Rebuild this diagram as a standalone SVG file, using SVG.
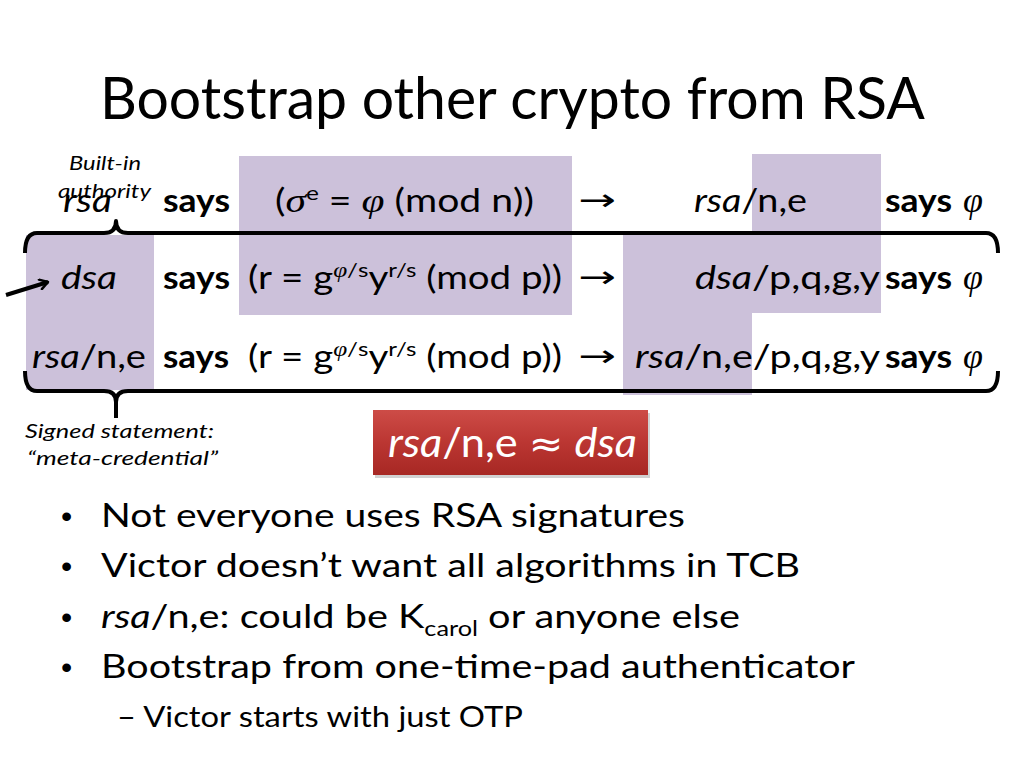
<svg xmlns="http://www.w3.org/2000/svg" width="1024" height="768" viewBox="0 0 1024 768">
<defs>
<style>
.t{font-family:Lato,"Open Sans","Liberation Sans",sans-serif;fill:#000}
.tb{font-family:Lato,"Open Sans","Liberation Sans",sans-serif;font-weight:bold;fill:#000}
.m{font-family:"Liberation Serif","DejaVu Serif",serif;font-style:italic;font-weight:normal}
.ar{font-family:"DejaVu Sans","Liberation Sans",sans-serif;font-size:30px}
.i{font-style:italic}
.shade{fill:#ccc1da}
.br{fill:none;stroke:#000;stroke-width:4;stroke-linecap:butt;stroke-linejoin:round}
.dot{font-family:"Liberation Sans",Arial,sans-serif;font-size:32px}
</style>
<linearGradient id="red" x1="0" y1="0" x2="0" y2="1">
<stop offset="0" stop-color="#cd4c47"/>
<stop offset="0.5" stop-color="#bb3632"/>
<stop offset="1" stop-color="#a72824"/>
</linearGradient>
<marker id="open" viewBox="0 0 12 12" refX="10" refY="6" markerWidth="12" markerHeight="12" markerUnits="userSpaceOnUse" orient="auto">
<path d="M2,1 L10,6 L2,11" fill="none" stroke="#000" stroke-width="2.5" stroke-linecap="round" stroke-linejoin="round"/>
</marker>
</defs>
<rect width="1024" height="768" fill="#fff"/>

<g id="title">
<text class="t" x="100" y="119" font-size="58" textLength="825" lengthAdjust="spacingAndGlyphs">Bootstrap other crypto from RSA</text>
</g>

<g id="shading">
<rect class="shade" x="239" y="156" width="333" height="159"/>
<rect class="shade" x="752" y="154" width="129" height="159"/>
<rect class="shade" x="26" y="235" width="128" height="155"/>
<rect class="shade" x="623" y="235" width="129" height="160"/>
</g>

<g id="connectors">
<path class="br" d="M25,253 Q25,233 37,233 L104,233 Q116,233 116,221 Q116,233 128,233 L986,233 Q998,233 998,253"/>
<path class="br" d="M25,371 Q25,391 37,391 L104,391 Q116,391 116,402 L116,418 M116,402 Q116,391 128,391 L986,391 Q998,391 998,371"/>
<line x1="6" y1="295" x2="48" y2="282" stroke="#000" stroke-width="4" marker-end="url(#open)"/>
</g>

<g id="row1">
<text class="t i" x="63" y="212" font-size="32" textLength="49" lengthAdjust="spacingAndGlyphs">rsa</text>
<text class="tb" x="163" y="212" font-size="32" textLength="67" lengthAdjust="spacingAndGlyphs">says</text>
<text class="t" x="275" y="212" font-size="32" textLength="259" lengthAdjust="spacingAndGlyphs">(<tspan class="m" font-size="34">σ</tspan><tspan dy="-12" font-size="20">e</tspan><tspan dy="12"> = </tspan><tspan class="m" font-size="34">φ</tspan> (mod n))</text>
<text class="ar" transform="translate(578,210) scale(1.5,1)">→</text>
<text class="t" x="694" y="212" font-size="32" textLength="113" lengthAdjust="spacingAndGlyphs"><tspan class="i">rsa</tspan>/n,e</text>
<text class="tb" x="885" y="212" font-size="32" textLength="67" lengthAdjust="spacingAndGlyphs">says</text>
<text class="m" x="963" y="212" font-size="36">φ</text>
</g>

<g id="row2">
<text class="t i" x="61" y="289" font-size="32" textLength="56" lengthAdjust="spacingAndGlyphs">dsa</text>
<text class="tb" x="163" y="289" font-size="32" textLength="67" lengthAdjust="spacingAndGlyphs">says</text>
<text class="t" x="248" y="289" font-size="32" textLength="314" lengthAdjust="spacingAndGlyphs">(r = g<tspan dy="-12" font-size="20"><tspan class="m" font-size="21">φ</tspan>/s</tspan><tspan dy="12">y</tspan><tspan dy="-12" font-size="20">r/s</tspan><tspan dy="12"> (mod p))</tspan></text>
<text class="ar" transform="translate(578,287) scale(1.5,1)">→</text>
<text class="t" x="695" y="289" font-size="32" textLength="185" lengthAdjust="spacingAndGlyphs"><tspan class="i">dsa</tspan>/p,q,g,y</text>
<text class="tb" x="885" y="289" font-size="32" textLength="67" lengthAdjust="spacingAndGlyphs">says</text>
<text class="m" x="963" y="289" font-size="36">φ</text>
</g>

<g id="row3">
<text class="t" x="32" y="368" font-size="32" textLength="114" lengthAdjust="spacingAndGlyphs"><tspan class="i">rsa</tspan>/n,e</text>
<text class="tb" x="163" y="368" font-size="32" textLength="66" lengthAdjust="spacingAndGlyphs">says</text>
<text class="t" x="248" y="368" font-size="32" textLength="314" lengthAdjust="spacingAndGlyphs">(r = g<tspan dy="-12" font-size="20"><tspan class="m" font-size="21">φ</tspan>/s</tspan><tspan dy="12">y</tspan><tspan dy="-12" font-size="20">r/s</tspan><tspan dy="12"> (mod p))</tspan></text>
<text class="ar" transform="translate(578,366) scale(1.5,1)">→</text>
<text class="t" x="635" y="368" font-size="32" textLength="245" lengthAdjust="spacingAndGlyphs"><tspan class="i">rsa</tspan>/n,e/p,q,g,y</text>
<text class="tb" x="885" y="368" font-size="32" textLength="67" lengthAdjust="spacingAndGlyphs">says</text>
<text class="m" x="963" y="368" font-size="36">φ</text>
</g>

<g id="builtin-label">
<text class="t i" x="69" y="170" font-size="19" textLength="72" lengthAdjust="spacingAndGlyphs">Built-in</text>
<text class="t i" x="58" y="198" font-size="19" textLength="93" lengthAdjust="spacingAndGlyphs">authority</text>
</g>

<g id="signed-label">
<text class="t i" x="25" y="438" font-size="19" textLength="189" lengthAdjust="spacingAndGlyphs">Signed statement:</text>
<text class="t i" x="27" y="465" font-size="19" textLength="191" lengthAdjust="spacingAndGlyphs">“meta-credential”</text>
</g>

<g id="equiv-box">
<rect x="375" y="413" width="275" height="65" fill="#000" opacity="0.18"/>
<rect x="373" y="410" width="275" height="65" fill="url(#red)"/>
<text class="t" x="388" y="457" font-size="40" style="fill:#fff" textLength="249" lengthAdjust="spacingAndGlyphs"><tspan class="i">rsa</tspan>/n,e <tspan font-family="DejaVu Sans,sans-serif" font-size="38">≈</tspan> <tspan class="i">dsa</tspan></text>
</g>

<g id="bullets">
<text class="dot" x="61" y="527">•</text>
<text class="t" x="101" y="527" font-size="33" textLength="584" lengthAdjust="spacingAndGlyphs">Not everyone uses RSA signatures</text>
<text class="dot" x="61" y="577">•</text>
<text class="t" x="101" y="577" font-size="33" textLength="699" lengthAdjust="spacingAndGlyphs">Victor doesn’t want all algorithms in TCB</text>
<text class="dot" x="61" y="628">•</text>
<text class="t" x="101" y="628" font-size="33" textLength="639" lengthAdjust="spacingAndGlyphs"><tspan class="i">rsa</tspan>/n,e: could be K<tspan dy="8" font-size="21">carol</tspan><tspan dy="-8"> or anyone else</tspan></text>
<text class="dot" x="61" y="678">•</text>
<text class="t" x="101" y="678" font-size="33" textLength="754" lengthAdjust="spacingAndGlyphs">Bootstrap from one-time-pad authenticator</text>
<text class="t" x="117" y="727" font-size="29" textLength="406" lengthAdjust="spacingAndGlyphs">– Victor starts with just OTP</text>
</g>
</svg>
